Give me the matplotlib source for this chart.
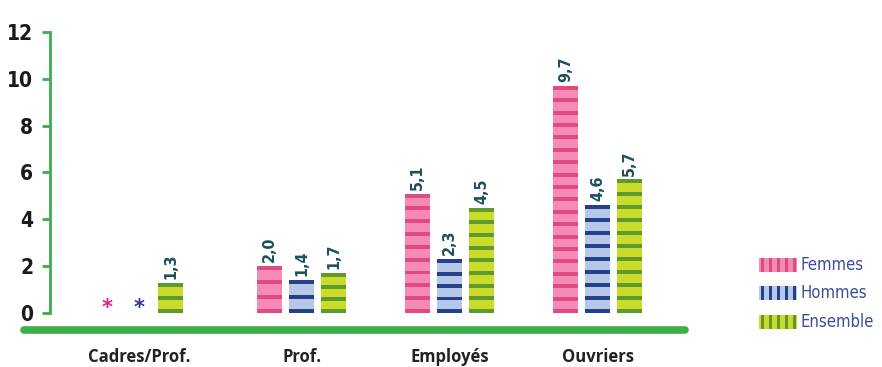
import matplotlib
matplotlib.use("Agg")
import matplotlib.pyplot as plt
from matplotlib.patches import Rectangle
from matplotlib.lines import Line2D
import numpy as np

categories = ["Cadres/Prof.", "Prof.", "Employés", "Ouvriers"]
series = ["Femmes", "Hommes", "Ensemble"]
femmes = [None, 2.0, 5.1, 9.7]
hommes = [None, 1.4, 2.3, 4.6]
ensemble = [1.3, 1.7, 4.5, 5.7]
y_ticks = [0, 2, 4, 6, 8, 10, 12]

group_x = [0, 1.1, 2.1, 3.1]
offset = 0.216
width = 0.169

light = ["#F48AB5", "#B5C8E8", "#CADB2A"]
dark = ["#E04A80", "#27408B", "#5E9A2E"]
star_colors = ["#E0218A", "#2B3990"]
green = "#3DAE49"
label_col = "#1F4E5F"

fig = plt.figure(figsize=(8.82, 3.67), dpi=100)
ax = fig.add_axes([50 / 882, 0.0962, 640 / 882, 0.8294])
ax.set_xlim(-0.601, 3.723)
ax.set_ylim(-0.8, 12.2)

period = 0.54
stripe = 0.17

for s, values in enumerate([femmes, hommes, ensemble]):
    for g, v in enumerate(values):
        x = group_x[g] + (s - 1) * offset
        if v is None:
            # no value for this group: a star sits on the baseline
            ax.text(x, -0.2, "*", color=star_colors[s], ha="center", va="bottom",
                    fontsize=15, fontweight="bold")
            continue
        ax.bar(x, v, width=width, color=light[s], linewidth=0)
        n = max(int(round((v - stripe) / period)), 1)
        for y0 in np.linspace(0, v - stripe, n + 1):
            ax.bar(x, stripe, bottom=y0, width=width, color=dark[s], linewidth=0)
        ax.text(x, v + 0.17, f"{v:.1f}".replace(".", ","), rotation=90,
                ha="center", va="bottom", color=label_col, fontsize=11.5,
                fontweight="bold", fontstretch="condensed")

for side in ["top", "right", "bottom"]:
    ax.spines[side].set_visible(False)
ax.spines["left"].set_color(green)
ax.spines["left"].set_linewidth(2)
ax.spines["left"].set_bounds(0, 12)

ax.set_yticks(y_ticks)
ax.set_yticklabels([str(t) for t in y_ticks], fontsize=15, fontweight="bold",
                   fontstretch="condensed", color="#1a1a1a")
ax.tick_params(axis="y", color=green, width=2, length=6, pad=6)

ax.set_xticks(group_x)
ax.set_xticklabels(categories, fontsize=12, fontweight="bold", family="Open Sans",
                   color="#222222")
ax.tick_params(axis="x", length=0, pad=12)

# thick baseline under the bars
ax.add_line(Line2D([-0.78, 3.69], [-0.726, -0.726], color=green, linewidth=5.5,
                   solid_capstyle="round", clip_on=False))

# legend with vertical stripes
W, H = 882, 367
leg_y = [258, 286, 315]
for s, name in enumerate(series):
    top = leg_y[s]
    x0, w, h = 759, 38, 14
    fig.add_artist(Rectangle((x0 / W, (H - top - h) / H), w / W, h / H,
                             color=light[s], linewidth=0))
    for k in range(5):
        sx = x0 + 2 + k * 8
        fig.add_artist(Rectangle((sx / W, (H - top - h) / H), 3 / W, h / H,
                                 color=dark[s], linewidth=0))
    fig.text(801 / W, (H - top - h / 2) / H, name, va="center", ha="left",
             fontsize=12, color="#3A4E9A", fontstretch="condensed")

fig.savefig("out.png", dpi=100)
